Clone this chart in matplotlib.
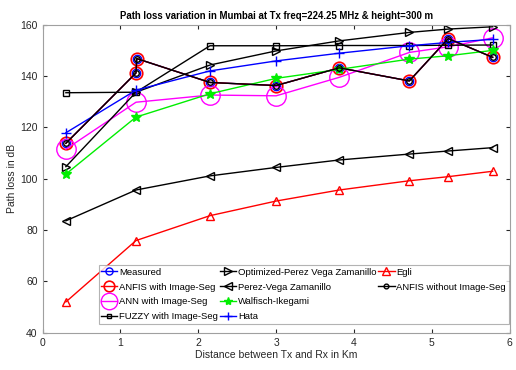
import matplotlib
matplotlib.use("Agg")
import matplotlib.pyplot as plt
from matplotlib.lines import Line2D

plt.rcParams['font.family'] = ['Liberation Sans', 'DejaVu Sans']

dist = [0.30, 1.20, 2.15, 3.00, 3.81, 4.71, 5.21, 5.78]
dist_meas = [0.30, 1.20, 1.21, 2.15, 3.00, 3.81, 4.71, 5.21, 5.78]

measured = [113.8, 141.2, 146.8, 137.5, 136.3, 143.2, 138.1, 154.6, 147.3]
anfis_seg = [113.8, 141.2, 146.8, 137.5, 136.3, 143.2, 138.1, 154.6, 147.3]
anfis_noseg = [113.8, 141.2, 146.8, 137.5, 136.3, 143.2, 138.1, 154.6, 147.3]
ann_seg = [111.5, 129.8, 132.6, 132.3, 139.5, 149.2, 151.4, 154.9]
fuzzy_seg = [133.5, 133.7, 151.8, 151.8, 151.9, 151.9, 152.0, 152.1]
opt_pvz = [104.7, 133.7, 144.3, 149.8, 153.7, 157.0, 158.3, 159.2]
pvz = [83.6, 95.6, 101.1, 104.4, 107.3, 109.6, 110.8, 112.1]
walfisch = [101.8, 124.0, 133.1, 139.1, 142.6, 146.6, 147.9, 150.0]
hata = [117.9, 134.5, 142.0, 145.9, 148.9, 151.8, 153.1, 154.3]
egli = [52.0, 75.9, 85.6, 91.3, 95.6, 99.2, 100.8, 102.9]

fig = plt.figure(figsize=(5.16, 3.70), dpi=100)
ax = fig.add_axes([0.0824, 0.1008, 0.9056, 0.8324])

lw = 1.0
h = []
h += ax.plot(dist_meas, measured, color='blue', marker='o', mfc='none', ms=6, lw=lw, label='Measured')
h += ax.plot(dist_meas, anfis_seg, color='red', marker='o', mfc='none', ms=9, mew=1.2, lw=lw, label='ANFIS with Image-Seg')
h += ax.plot(dist, ann_seg, color='magenta', marker='o', mfc='none', ms=14, lw=lw, label='ANN with Image-Seg')
h += ax.plot(dist, fuzzy_seg, color='black', marker='s', mfc='none', ms=4, lw=lw, label='FUZZY with Image-Seg')
h += ax.plot(dist, opt_pvz, color='black', marker='>', mfc='none', ms=6, lw=lw, label='Optimized-Perez Vega Zamanillo')
h += ax.plot(dist, pvz, color='black', marker='<', mfc='none', ms=6, lw=lw, label='Perez-Vega Zamanillo')
h += ax.plot(dist, walfisch, color='#00ee00', marker='*', ms=7, lw=lw, label='Walfisch-Ikegami')
h += ax.plot(dist, hata, color='blue', marker='+', ms=7, lw=lw, label='Hata')
h += ax.plot(dist, egli, color='red', marker='^', mfc='none', ms=6, lw=lw, label='Egli')
h += ax.plot(dist_meas, anfis_noseg, color='black', marker='o', mfc='none', ms=4, lw=lw, label='ANFIS without Image-Seg')

ax.set_xlim(0, 6)
ax.set_ylim(40, 160)
ax.set_xticks(range(0, 7))
ax.set_yticks(range(40, 161, 20))
ax.tick_params(direction='in', top=True, right=True, labelsize=7.5, colors='#262626', length=3)
for s in ax.spines.values():
    s.set_color('#a0a0a0')
    s.set_linewidth(0.8)

ax.set_title('Path loss variation in Mumbai at Tx freq=224.25 MHz & height=300 m',
             fontsize=6.9, fontweight='bold', pad=4)
ax.set_xlabel('Distance between Tx and Rx in Km', fontsize=7.5, color='#262626', labelpad=2)
ax.set_ylabel('Path loss in dB', fontsize=7.5, color='#262626', labelpad=2)

blank = Line2D([], [], linestyle='none', marker='none')
handles = h[:8] + [h[8], h[9], blank, blank]
labels = [x.get_label() for x in h[:8]] + [h[8].get_label(), h[9].get_label(), '', '']
leg = ax.legend(handles, labels, loc='lower left', bbox_to_anchor=(0.12, 0.028), ncol=3, fontsize=6.8,
                frameon=True, fancybox=False, edgecolor='#a0a0a0', handlelength=1.7,
                handletextpad=0.2, columnspacing=0.2, borderpad=0.3, labelspacing=0.62,
                borderaxespad=0, markerscale=0.85)
leg.get_frame().set_linewidth(0.8)

fig.savefig('out.png', dpi=100)
